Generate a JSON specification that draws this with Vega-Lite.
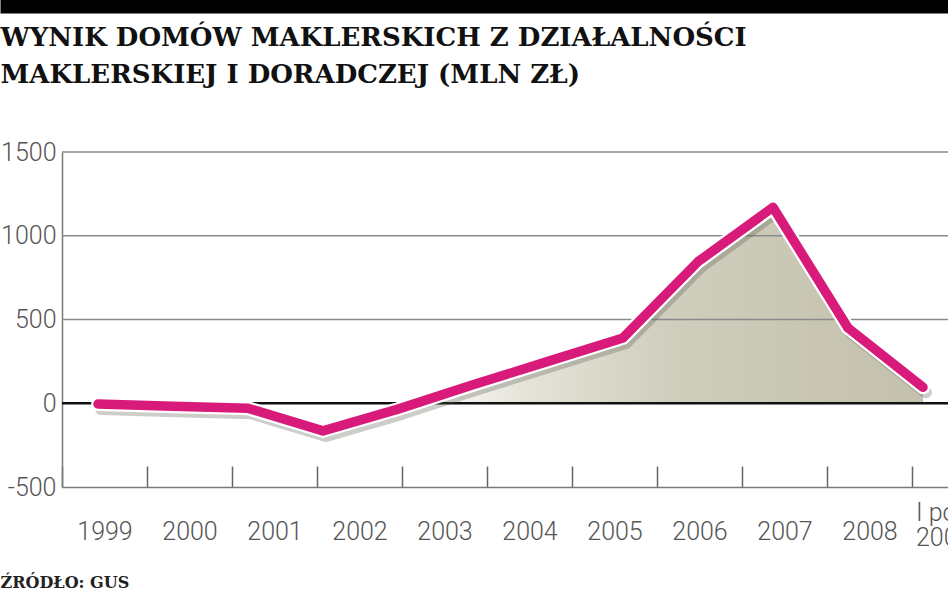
{
  "$schema": "https://vega.github.io/schema/vega-lite/v6.json",
  "padding": 0,
  "autosize": {"type": "pad"},
  "background": "white",
  "width": 935,
  "height": 335,
  "layer": [
    {
      "data": {"values": [
        {"etykieta": "1999"}, {"etykieta": "2000"}, {"etykieta": "2001"}, {"etykieta": "2002"},
        {"etykieta": "2003"}, {"etykieta": "2004"}, {"etykieta": "2005"}, {"etykieta": "2006"},
        {"etykieta": "2007"}, {"etykieta": "2008"}, {"etykieta": "I pół. 2009"}
      ]},
      "mark": {"type": "point", "opacity": 0},
      "encoding": {
        "x": {
          "field": "etykieta", "type": "ordinal", "sort": null,
          "scale": {"type": "band", "paddingInner": 0, "paddingOuter": 0},
          "axis": {
            "orient": "bottom",
            "tickBand": "extent",
            "tickSize": -21,
            "tickColor": "#666666",
            "tickWidth": 1.5,
            "domainColor": "#7a7a7a",
            "domainWidth": 1.5,
            "grid": false,
            "labelAngle": 0,
            "labelFont": "Roboto",
            "labelFontWeight": 300,
            "labelFontSize": 25,
            "labelColor": "#555555",
            "labelPadding": {"condition": {"test": "datum.value === 'I pół. 2009'", "value": 46}, "value": 65},
            "labelAlign": {"condition": {"test": "datum.value === 'I pół. 2009'", "value": "left"}, "value": "center"},
            "labelOffset": {"condition": {"test": "datum.value === 'I pół. 2009'", "value": -39}, "value": 0},
            "labelBaseline": "middle",
            "labelLineHeight": 25,
            "labelExpr": "datum.label == 'I pół. 2009' ? ['I pół.', '2009'] : datum.label",
            "title": "ŹRÓDŁO: GUS",
            "titleX": -62,
            "titleY": 100,
            "titleAlign": "left",
            "titleAnchor": "start",
            "titleBaseline": "alphabetic",
            "titleFont": "DejaVu Serif",
            "titleFontWeight": "bold",
            "titleFontSize": 16,
            "titleColor": "#222222"
          }
        }
      }
    },
    {
      "data": {"values": [
        {"punkt": 1, "wynik": -5}, {"punkt": 2, "wynik": -18}, {"punkt": 3, "wynik": -30},
        {"punkt": 4, "wynik": -165}, {"punkt": 5, "wynik": -35}, {"punkt": 6, "wynik": 110},
        {"punkt": 7, "wynik": 250}, {"punkt": 8, "wynik": 390}, {"punkt": 9, "wynik": 845},
        {"punkt": 10, "wynik": 1170}, {"punkt": 11, "wynik": 450}, {"punkt": 12, "wynik": 95}
      ]},
      "mark": {
        "type": "area",
        "color": {
          "gradient": "linear", "x1": 0, "x2": 1, "y1": 0, "y2": 0,
          "stops": [
            {"offset": 0, "color": "#ffffff"},
            {"offset": 0.38, "color": "#ffffff"},
            {"offset": 0.52, "color": "#e4e3d8"},
            {"offset": 0.7, "color": "#cfcdbc"},
            {"offset": 1, "color": "#c3c0ac"}
          ]
        }
      },
      "encoding": {
        "x": {
          "field": "punkt", "type": "quantitative",
          "scale": {"domain": [-0.3067, 12.987], "range": [-62, 935], "nice": false, "zero": false},
          "axis": {
            "orient": "top",
            "offset": 152,
            "domain": true,
            "domainColor": "#000000",
            "domainWidth": 26,
            "domainCap": "butt",
            "labels": false,
            "ticks": false,
            "grid": false,
            "title": ["WYNIK DOMÓW MAKLERSKICH Z DZIAŁALNOŚCI", "MAKLERSKIEJ I DORADCZEJ (MLN ZŁ)"],
            "titleX": -62,
            "titleY": 45,
            "titleAlign": "left",
            "titleAnchor": "start",
            "titleBaseline": "alphabetic",
            "titleFont": "DejaVu Serif",
            "titleFontWeight": "bold",
            "titleFontSize": 26,
            "titleLineHeight": 37,
            "titleColor": "#111111"
          }
        },
        "y": {
          "field": "wynik", "type": "quantitative",
          "scale": {"domain": [-500, 1500], "nice": false},
          "axis": {
            "title": null,
            "values": [-500, 0, 500, 1000, 1500],
            "labelExpr": "'' + datum.value",
            "domainColor": "#7a7a7a",
            "domainWidth": 1.5,
            "ticks": false,
            "tickSize": 0,
            "grid": false,
            "labelFont": "Roboto",
            "labelFontWeight": 300,
            "labelFontSize": 25,
            "labelColor": "#555555",
            "labelPadding": 6,
            "labelBaseline": "middle"
          }
        },
        "y2": {"datum": 0}
      }
    },
    {
      "data": {"values": [{"poziom": 500}, {"poziom": 1000}, {"poziom": 1500}]},
      "mark": {"type": "rule", "color": "#8a8a8a", "strokeWidth": 1.5},
      "encoding": {"y": {"field": "poziom", "type": "quantitative", "axis": {"title": null}}}
    },
    {
      "data": {"values": [{"poziom": 0}]},
      "mark": {"type": "rule", "color": "#111111", "strokeWidth": 2.5},
      "encoding": {"y": {"field": "poziom", "type": "quantitative", "axis": {"title": null}}}
    },
    {
      "data": {"values": [
        {"punkt": 1, "wynik": -5}, {"punkt": 2, "wynik": -18}, {"punkt": 3, "wynik": -30},
        {"punkt": 4, "wynik": -165}, {"punkt": 5, "wynik": -35}, {"punkt": 6, "wynik": 110},
        {"punkt": 7, "wynik": 250}, {"punkt": 8, "wynik": 390}, {"punkt": 9, "wynik": 845},
        {"punkt": 10, "wynik": 1170}, {"punkt": 11, "wynik": 450}, {"punkt": 12, "wynik": 95}
      ]},
      "encoding": {
        "x": {
          "field": "punkt", "type": "quantitative",
          "scale": {"domain": [-0.3067, 12.987], "range": [-62, 935], "nice": false, "zero": false},
          "axis": null
        },
        "y": {"field": "wynik", "type": "quantitative", "axis": {"title": null}}
      },
      "layer": [
        {"mark": {"type": "line", "color": "#5a5a50", "opacity": 0.3, "strokeWidth": 12, "xOffset": 3, "yOffset": 5, "strokeCap": "round", "strokeJoin": "round"}},
        {"mark": {"type": "line", "color": "#ffffff", "strokeWidth": 14, "strokeCap": "round", "strokeJoin": "round"}},
        {"mark": {"type": "line", "color": "#d81b7b", "strokeWidth": 9.5, "strokeCap": "round", "strokeJoin": "round"}}
      ]
    }
  ],
  "resolve": {"scale": {"x": "independent"}},
  "config": {
    "view": {"stroke": null}
  }
}
